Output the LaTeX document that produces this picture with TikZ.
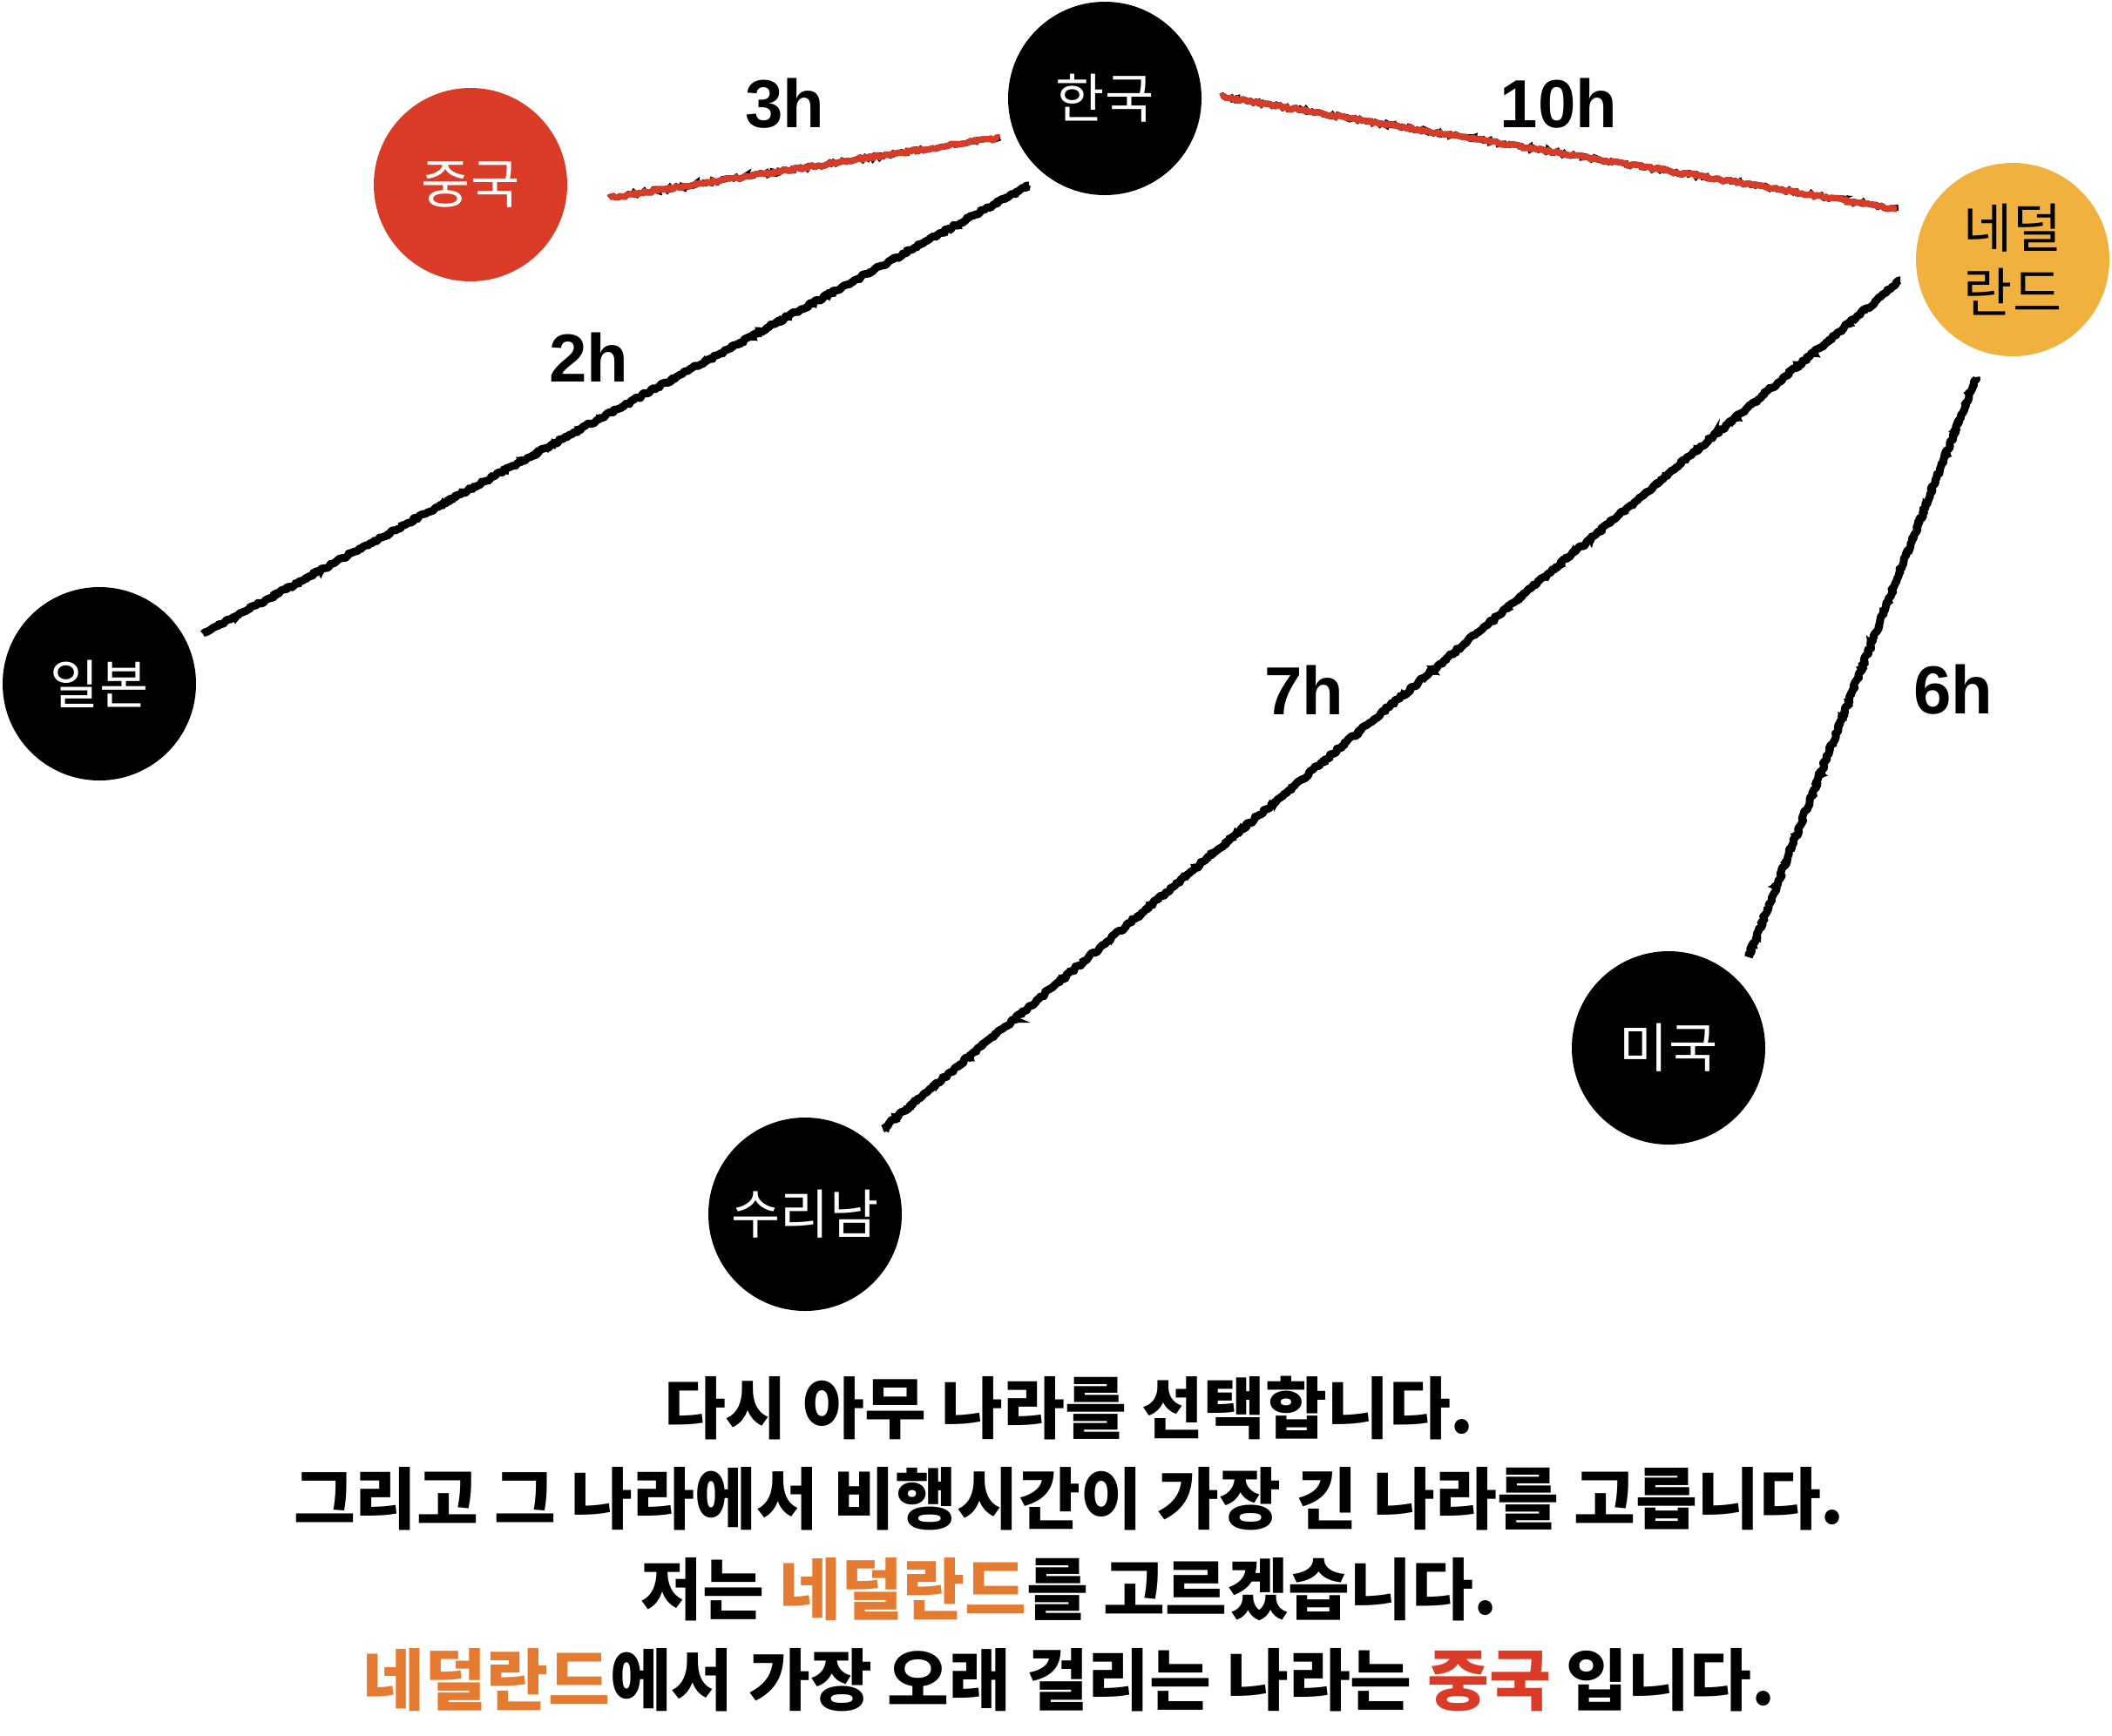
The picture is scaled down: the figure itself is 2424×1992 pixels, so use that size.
\documentclass[tikz,border=0pt]{standalone}
\usepackage{fontspec}
\setmainfont{Liberation Sans}
\newfontfamily\kr{Noto Sans CJK KR}
\usetikzlibrary{decorations.pathmorphing}
\definecolor{cred}{HTML}{D93B27}
\definecolor{corange}{HTML}{F1B13F}
\definecolor{ctext}{HTML}{E47B30}
\tikzset{
  country/.style={circle, minimum size=222pt, inner sep=0pt, fill=black, text=white,
    font=\kr\fontsize{61}{80}\selectfont, align=center},
  chalk/.style={line width=9pt, line join=round, decorate,
    decoration={random steps, segment length=2.5pt, amplitude=1.6pt},
    preaction={draw, line width=7pt, decoration={random steps, segment length=6pt, amplitude=2.5pt}, decorate}},
  chalkred/.style={chalk, draw=cred, line width=7pt},
  chalkblack/.style={chalk, draw=black},
  hours/.style={font=\bfseries\fontsize{78}{78}\selectfont},
  caption/.style={font=\kr\bfseries\fontsize{77}{104}\selectfont, align=center}
}
\begin{document}
\begin{tikzpicture}[x=1pt,y=-1pt]
\pgfmathsetseed{3}
\useasboundingbox (0,0) rectangle (2424,1992);
\node[country] (hk) at (1268,113) {한국};
\node[country, fill=cred] (zh) at (540,212) {중국};
\node[country, fill=corange, text=black] (nl) at (2310,298) {네덜\\[-6pt]란드};
\node[country] (jp) at (114,785) {일본};
\node[country] (sr) at (924,1394) {수리남};
\node[country] (us) at (1915,1203) {미국};

\draw[chalkred] ([shift={(159,15)}]zh.center) -- ([shift={(-121,45)}]hk.center);
\draw[chalkred] ([shift={(133,-2)}]hk.center) -- ([shift={(-133,-58)}]nl.center);
\draw[chalkblack] ([shift={(-87,100)}]hk.center) -- ([shift={(119,-57)}]jp.center);
\draw[chalkblack] ([shift={(-129,24)}]nl.center) -- ([shift={(89,-98)}]sr.center);
\draw[chalkblack] ([shift={(-42,135)}]nl.center) -- ([shift={(92,-105)}]us.center);

\node[hours] (l3) at (901,119) {3h};
\node[hours] (l10) at (1789,119) {10h};
\node[hours] (l2) at (676,410) {2h};
\node[hours] (l7) at (1497,792) {7h};
\node[hours] (l6) at (2242,792) {6h};

\node[caption] (cap) at (1227,1772) {다시 아무 나라를 선택합니다.\\
그리고 그 나라에서 비행시간이 가장 긴 나라를 고릅니다.\\
저는 \textcolor{ctext}{네덜란드}를 고르겠습니다.\\
\textcolor{ctext}{네덜란드}에서 가장 오래 걸리는 나라는 \textcolor{cred}{중국} 입니다.};
\end{tikzpicture}
\end{document}
